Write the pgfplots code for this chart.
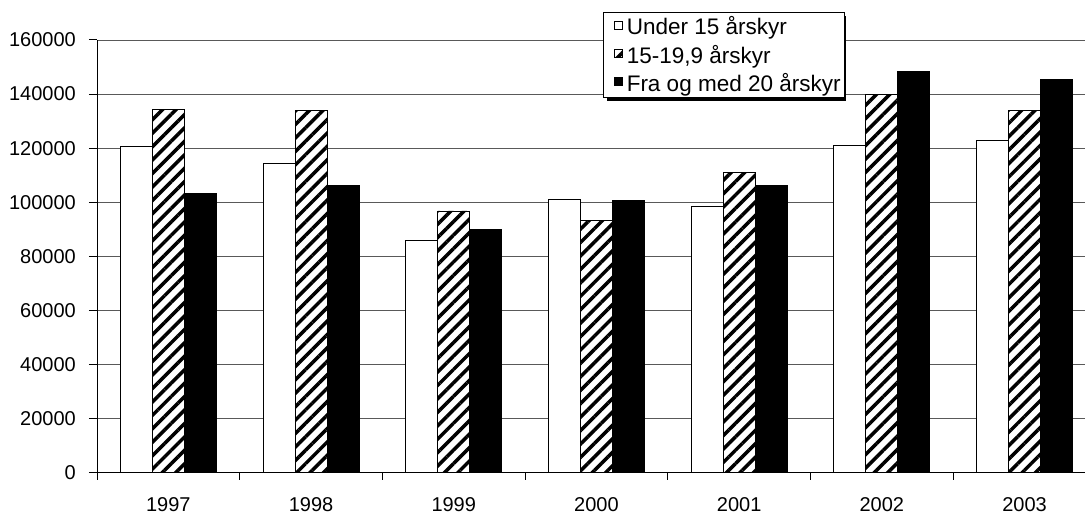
\documentclass[border=0pt]{standalone}
\usepackage{pgfplots}
\pgfplotsset{compat=1.18}
\usepackage{fontspec}
\setmainfont{Liberation Sans}
\usetikzlibrary{patterns.meta}
\begin{document}
\begin{tikzpicture}
\begin{axis}[
  at={(97pt,41.3pt)}, anchor=south west,
  scale only axis, width=988pt, height=432.7pt,
  xmin=-0.5, xmax=6.4236, ymin=0, ymax=160000,
  clip=false,
  ybar=0pt, bar width=32pt,
  axis lines=left, axis line style={-, black, line width=1pt},
  ymajorgrids, grid style={black!65, line width=0.9pt},
  ytick={0,20000,40000,60000,80000,100000,120000,140000,160000},
  yticklabels={0,20000,40000,60000,80000,100000,120000,140000,160000},
  scaled y ticks=false,
  xtick={0,...,6}, xticklabels={1997,1998,1999,2000,2001,2002,2003},
  minor xtick={-0.5,0.5,...,5.5},
  tick align=outside,
  major tick length=8pt, minor tick length=7pt,
  every major x tick/.append style={draw=none},
  tick style={black, line width=1pt},
  tick label style={font=\fontsize{20}{24}\selectfont},
  yticklabel style={inner sep=0pt, anchor=east, xshift=-13pt},
  xticklabel style={inner sep=0pt, anchor=north, yshift=-16.5pt},
  legend cell align=left,
  legend style={at={(0.5121,1.0647)}, anchor=north west, draw=black, line width=1pt, fill=white,
    inner xsep=0pt, inner ysep=0pt, row sep=0pt, column sep=0pt,
    font=\fontsize{22.5}{26}\selectfont,
    nodes={inner ysep=0pt, inner xsep=3.5pt, minimum height=28.2pt}},
  legend image code/.code={\path (-11pt,0pt) (5.1pt,0pt); \draw[#1, line width=0.8pt] (0pt,-2.5pt) rectangle (8pt,5.5pt);},
]
\addplot[draw=black, fill=white, line width=0.8pt] coordinates {
  (0,120700) (1,114200) (2,85800) (3,101200) (4,98400) (5,121200) (6,122800)};
\addplot[draw=black, fill=white, line width=0.8pt,
  postaction={pattern={Lines[angle=45,distance=9.5pt,line width=3.5pt]}, pattern color=black}] coordinates {
  (0,134400) (1,134000) (2,96800) (3,93200) (4,111000) (5,139700) (6,133900)};
\addplot[draw=black, fill=black, line width=0.8pt] coordinates {
  (0,103300) (1,106100) (2,89800) (3,100600) (4,106100) (5,148500) (6,145300)};
\legend{Under 15 årskyr, 15-19{,}9 årskyr, Fra og med 20 årskyr}
\fill[black] (axis description cs:0.5167,0.8579) rectangle (axis description cs:0.7576,1.0543);
\end{axis}
\pgfresetboundingbox
\useasboundingbox (0,0) rectangle (1085pt,514pt);
\end{tikzpicture}
\end{document}
